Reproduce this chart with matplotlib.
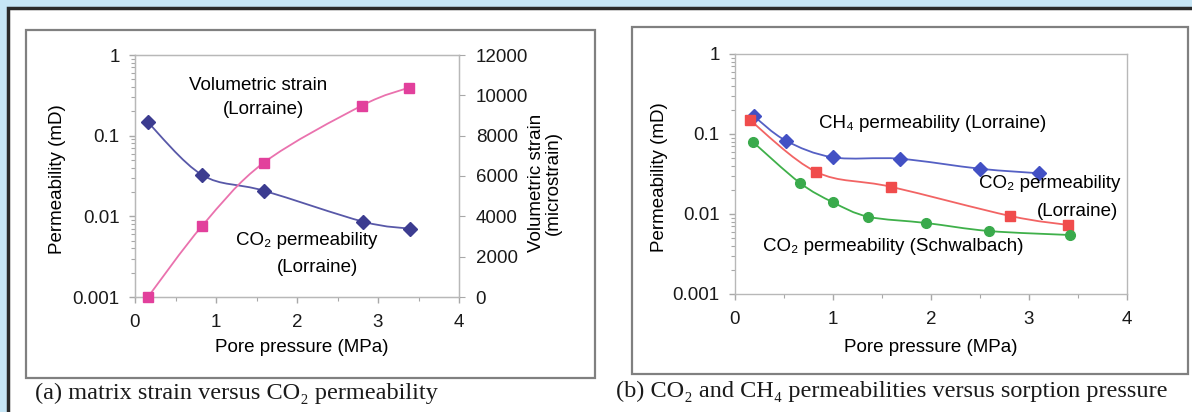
import numpy as np
import matplotlib
matplotlib.use('Agg')
import matplotlib.pyplot as plt
from matplotlib.path import Path
from matplotlib.patches import PathPatch, Rectangle

### data
# (a) Lorraine coal: CO2 permeability and volumetric strain
a_perm_p = [0.16, 0.83, 1.59, 2.82, 3.40]
a_perm = [0.146, 0.0325, 0.0208, 0.00857, 0.00702]
a_strain_p = [0.16, 0.83, 1.59, 2.80, 3.38]
a_strain = [0, 3530, 6660, 9490, 10380]

# (b) permeabilities versus sorption pressure
ch4_p = [0.19, 0.52, 1.00, 1.68, 2.50, 3.10]
ch4_perm = [0.168, 0.0824, 0.0511, 0.0491, 0.0368, 0.0323]
co2_lor_p = [0.15, 0.83, 1.59, 2.81, 3.40]
co2_lor_perm = [0.150, 0.0335, 0.0219, 0.00944, 0.00729]
co2_sch_p = [0.18, 0.66, 1.00, 1.36, 1.95, 2.59, 3.42]
co2_sch_perm = [0.0801, 0.0246, 0.0140, 0.00925, 0.00772, 0.00613, 0.00546]

W, H = 1192, 412
SANS = ['Liberation Sans', 'DejaVu Sans']
SERIF = ['Liberation Serif', 'DejaVu Serif']
plt.rcParams['font.family'] = SANS
FS = 13.5
CAP = 17.5

fig = plt.figure(figsize=(W / 100, H / 100), dpi=100, facecolor='#c6e6f6')

def fx(px):
    return px / W

def fy(py):
    return 1 - py / H

def box(x0, y0, x1, y1, **kw):
    fig.patches.append(Rectangle((fx(x0), fy(y1)), fx(x1) - fx(x0), fy(y0) - fy(y1),
                                 transform=fig.transFigure, zorder=-10, **kw))

def smooth(ax, xs, ys, color, logy=True, lw=1.3):
    # excel-like smoothed connector: cubic bezier through the points
    X = np.asarray(xs, float)
    Y = np.log10(ys) if logy else np.asarray(ys, float)
    P = np.column_stack((X, Y))
    n = len(P)
    verts = [P[0]]
    codes = [Path.MOVETO]
    for i in range(n - 1):
        p0 = P[i - 1] if i > 0 else P[i]
        p3 = P[i + 2] if i + 2 < n else P[i + 1]
        c1 = P[i] + (P[i + 1] - p0) / 6.0
        c2 = P[i + 1] - (p3 - P[i]) / 6.0
        verts += [c1, c2, P[i + 1]]
        codes += [Path.CURVE4] * 3
    V = np.array(verts)
    if logy:
        V[:, 1] = 10 ** V[:, 1]
    ax.add_patch(PathPatch(Path(V, codes), fill=False, edgecolor=color, lw=lw, zorder=2))

# white sheet with dark border, and the two chart frames
box(8, 8, 1210, 430, facecolor='white', edgecolor='#2a2a2a', lw=2.5)
box(26, 30, 595, 378, facecolor='none', edgecolor='#808080', lw=1.6)
box(632, 27, 1188, 374, facecolor='none', edgecolor='#808080', lw=1.6)

def setup_axis(ax):
    ax.set_xlim(0, 4)
    ax.set_yscale('log')
    ax.set_ylim(0.001, 1)
    ax.set_xticks([0, 1, 2, 3, 4])
    ax.set_xticks(np.arange(0, 4.01, 0.5), minor=True)
    ax.set_yticks([0.001, 0.01, 0.1, 1])
    ax.set_yticklabels(['0.001', '0.01', '0.1', '1'])
    for s in ax.spines.values():
        s.set_color('#b8b8b8')
        s.set_linewidth(1.0)
    ax.tick_params(which='both', color='#a8a8a8', direction='out', labelsize=FS,
                   labelcolor='#1a1a1a')
    ax.tick_params(which='major', length=4, width=1)
    ax.tick_params(which='minor', length=3, width=0.8)
    ax.tick_params(axis='y', pad=7)
    ax.tick_params(axis='x', which='major', pad=8)
    ax.set_facecolor('none')

### (a) matrix strain versus CO2 permeability
ax1 = fig.add_axes([fx(135), fy(297), fx(459) - fx(135), fy(55) - fy(297)])
setup_axis(ax1)
ax2 = ax1.twinx()
ax2.set_ylim(0, 12000)
ax2.set_yticks(np.arange(0, 12001, 2000))
ax2.tick_params(color='#a8a8a8', direction='out', length=4, labelsize=FS,
                labelcolor='#1a1a1a', pad=8)
for s in ax2.spines.values():
    s.set_color('#b8b8b8')

smooth(ax1, a_perm_p, a_perm, '#5858a8')
ax1.plot(a_perm_p, a_perm, 'D', color='#3c3c90', ms=7, zorder=3)
smooth(ax2, a_strain_p, a_strain, '#ea72ae', logy=False)
ax2.plot(a_strain_p, a_strain, 's', color='#e2409c', ms=7, zorder=3, clip_on=False)

fig.text(fx(258), fy(85), 'Volumetric strain', ha='center', va='center', fontsize=FS)
fig.text(fx(263), fy(109), '(Lorraine)', ha='center', va='center', fontsize=FS)
fig.text(fx(307), fy(241), 'CO\u2082 permeability', ha='center', va='center', fontsize=FS)
fig.text(fx(318), fy(267), '(Lorraine)', ha='center', va='center', fontsize=FS)

fig.text(fx(57), fy(179), 'Permeability (mD)', rotation=90, ha='center', va='center', fontsize=FS)
fig.text(fx(545), fy(183), 'Volumetric strain\n(microstrain)', rotation=90, ha='center',
         va='center', fontsize=FS, multialignment='center', linespacing=1.0)
fig.text(fx(302), fy(348), 'Pore pressure (MPa)', ha='center', va='center', fontsize=FS)
fig.text(fx(35), fy(393), '(a) matrix strain versus CO\u2082 permeability', ha='left',
         va='center', fontsize=CAP, family=SERIF, color='#1a1a1a')

### (b) CO2 and CH4 permeabilities versus sorption pressure
ax3 = fig.add_axes([fx(735), fy(294), fx(1127) - fx(735), fy(54) - fy(294)])
setup_axis(ax3)

smooth(ax3, ch4_p, ch4_perm, '#5560c4')
ax3.plot(ch4_p, ch4_perm, 'D', color='#4250c4', ms=7.5, zorder=3)
smooth(ax3, co2_lor_p, co2_lor_perm, '#f26464')
ax3.plot(co2_lor_p, co2_lor_perm, 's', color='#f04c4c', ms=7.5, zorder=3)
smooth(ax3, co2_sch_p, co2_sch_perm, '#3fb04a')
ax3.plot(co2_sch_p, co2_sch_perm, 'o', color='#3aaa4c', ms=7, zorder=3)

fig.text(fx(933), fy(123), 'CH\u2084 permeability (Lorraine)', ha='center', va='center', fontsize=FS)
fig.text(fx(1050), fy(184), 'CO\u2082 permeability', ha='center', va='center', fontsize=FS)
fig.text(fx(1077), fy(212), '(Lorraine)', ha='center', va='center', fontsize=FS)
fig.text(fx(893), fy(247), 'CO\u2082 permeability (Schwalbach)', ha='center', va='center', fontsize=FS)

fig.text(fx(660), fy(177), 'Permeability (mD)', rotation=90, ha='center', va='center', fontsize=FS)
fig.text(fx(931), fy(348), 'Pore pressure (MPa)', ha='center', va='center', fontsize=FS)
fig.text(fx(616), fy(391), '(b) CO\u2082 and CH\u2084 permeabilities versus sorption pressure',
         ha='left', va='center', fontsize=CAP, family=SERIF, color='#1a1a1a')

fig.savefig('out.png', dpi=100, facecolor=fig.get_facecolor())
